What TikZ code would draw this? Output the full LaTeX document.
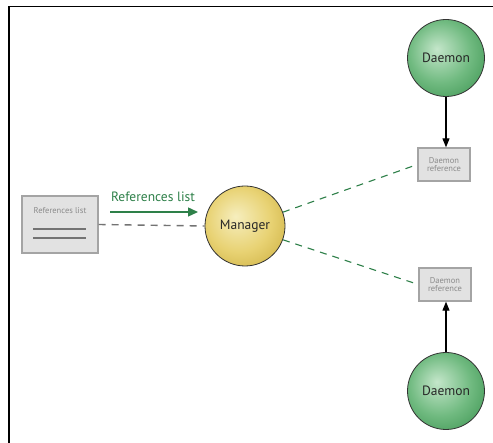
\documentclass[tikz,border=0pt]{standalone}
\usepackage{fontspec}
\setmainfont{PT Sans}
\usetikzlibrary{arrows.meta}
\definecolor{linkgreen}{HTML}{2E8049}
\definecolor{boxfill}{HTML}{E2E2E2}
\definecolor{boxedge}{HTML}{A4A4A4}
\definecolor{boxtext}{HTML}{8A8A8A}
% soft spheres, highlight a little up and left of the centre
\pgfdeclareradialshading{mgrsphere}{\pgfpoint{-6bp}{6bp}}{%
  color(0bp)=(rgb,255:red,246;green,238;blue,190);
  color(20bp)=(rgb,255:red,232;green,210;blue,115);
  color(42bp)=(rgb,255:red,196;green,164;blue,48);
  color(56bp)=(rgb,255:red,150;green,120;blue,25)}
\pgfdeclareradialshading{dmnsphere}{\pgfpoint{-6bp}{6bp}}{%
  color(0bp)=(rgb,255:red,196;green,230;blue,202);
  color(20bp)=(rgb,255:red,112;green,186;blue,128);
  color(42bp)=(rgb,255:red,44;green,136;blue,66);
  color(56bp)=(rgb,255:red,25;green,100;blue,44)}
\tikzset{
  refbox/.style={draw=boxedge, fill=boxfill, line width=1.3pt, inner sep=0pt},
  ballnode/.style={circle, draw=black!80, line width=0.8pt, inner sep=0pt,
    font=\fontsize{13.5}{15}\selectfont, text=black!85},
  smalltext/.style={font=\fontsize{8.5}{9.5}\selectfont, text=boxtext, align=center},
  solidarrow/.style={draw=black, line width=1.1pt, -{Triangle[length=9pt,width=7pt]}},
  greendash/.style={draw=linkgreen, line width=1.1pt, dash pattern=on 7pt off 6pt},
  greydash/.style={draw=black!55, line width=1.4pt, dash pattern=on 7pt off 6pt},
}
\begin{document}
\begin{tikzpicture}[x=1pt, y=-1pt]
  \useasboundingbox (0,0) rectangle (493,443);
  \fill[white] (0,0) rectangle (493,443);
  % frame
  \draw[black, line width=1.6pt] (493,6.5) -- (9,6.5) -- (9,443);

  % references list document
  \node[refbox, minimum width=76pt, minimum height=57pt] (reflist) at (60,224.5) {};
  \node[smalltext] (reflabel) at (60,211) {References list};
  \draw[black!55, line width=1.6pt] (33,229) coordinate (l1a) -- (86,229) coordinate (l1b);
  \draw[black!55, line width=1.6pt] (33,238) coordinate (l2a) -- (86,238) coordinate (l2b);

  % manager
  \node[ballnode, shading=mgrsphere, minimum size=80pt] (manager) at (245,226) {Manager};

  % daemons
  \node[ballnode, shading=dmnsphere, minimum size=77pt] (d1) at (446,58) {Daemon};
  \node[ballnode, shading=dmnsphere, minimum size=77pt] (d2) at (446,391) {Daemon};

  % daemon references
  \node[refbox, minimum width=52pt, minimum height=33pt, smalltext] (r1) at (444,164.5) {Daemon\\[-1pt]reference};
  \node[refbox, minimum width=52pt, minimum height=33pt, smalltext] (r2) at (445,284.5) {Daemon\\[-1pt]reference};

  % connectors
  \draw[greydash] (reflist.east) -- (manager.west);
  \coordinate (ga) at (110,212);
  \coordinate (gb) at (198,212);
  \draw[draw=linkgreen, line width=1.4pt, -{Triangle[length=10pt,width=9pt]}] (ga) -- (gb);
  \node[font=\fontsize{13.5}{15}\selectfont, text=linkgreen] (arrowlabel) at (153,197) {References list};

  \draw[solidarrow] (d1.south) -- (r1.north -| d1.south);
  \draw[solidarrow] (d2.north) -- (r2.south -| d2.north);

  \draw[greendash] (manager.20) -- (r1.west);
  \draw[greendash] (manager.-20) -- (r2.west);
\end{tikzpicture}
\end{document}
